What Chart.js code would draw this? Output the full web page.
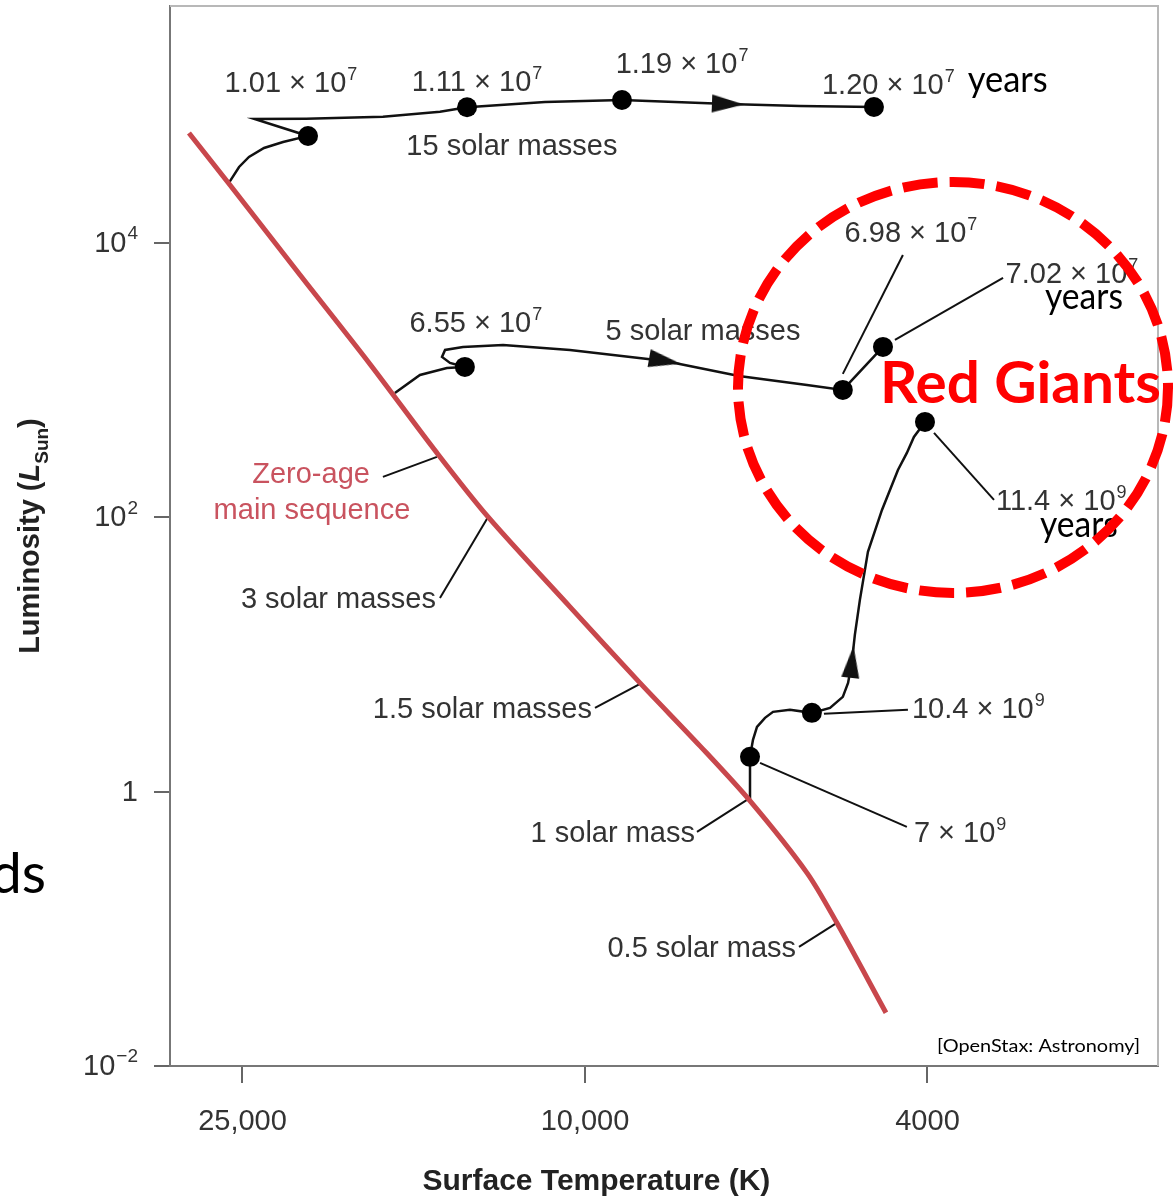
<!DOCTYPE html>
<html>
<head>
<meta charset="utf-8">
<title>Evolutionary tracks</title>
<script src="https://cdn.jsdelivr.net/npm/chart.js@4.4.1/dist/chart.umd.min.js"></script>
<style>
  html, body { margin: 0; padding: 0; background: #fff; }
  canvas { display: block; }
</style>
</head>
<body>
<canvas id="hrChart" width="1173" height="1198"></canvas>
<script>
// axis ticks
const xTickValues = [25000, 10000, 4000];
const xTickLabels = ['25,000', '10,000', '4000'];
const yTickValues = [0.01, 1, 100, 10000];
const yTickBase = ['10', '1', '10', '10'];
const yTickExp = ['−2', '', '2', '4'];

// zero-age main sequence: surface temperature (K) / luminosity (L_sun)
const zamsTemp = [28850, 25850, 21430, 17780, 14860, 12960, 10410, 8633, 7353, 6431, 5522, 5098, 4470];
const zamsLum = [63360, 26470, 5845, 1313, 294.8, 100.7, 22.23, 6.209, 2.157, 0.8568, 0.2560, 0.1106, 0.02442];

// 15 solar masses
const track15Temp = [25870, 25230, 24570, 23600, 22430, 20980, 24210, 21090, 17170, 14740, 13710, 11130, 9058, 6822, 5626, 4616];
const track15Lum = [27980, 35810, 42340, 49250, 54480, 60260, 80130, 80530, 83270, 90570, 97520, 106600, 110200, 103100, 99660, 98000];
const dots15Temp = [20980, 13710, 9058, 4616];
const dots15Lum = [60260, 97520, 110200, 98000];

// 5 solar masses
const track5Temp = [16630, 15550, 14470, 13790, 14350, 14660, 14540, 13860, 12450, 10410, 8075, 6624, 5522, 5017, 4506];
const track5Lum = [806.7, 1091, 1227, 1248, 1335, 1476, 1660, 1746, 1806, 1660, 1380, 1073, 923, 848.5, 1746];
const dots5Temp = [13790, 5017, 4506];
const dots5Lum = [1248, 848.5, 1746];

// 1 solar mass
const track1Temp = [6431, 6431, 6431, 6380, 6312, 6178, 6047, 5779, 5450, 5192, 5017, 4947, 4897, 4858, 4793, 4691, 4518, 4329, 4227, 4148, 4027];
const track1Lum = [0.8568, 1.260, 1.793, 2.386, 2.967, 3.451, 3.816, 3.948, 3.753, 4.081, 4.909, 6.209, 8.834, 13.90, 25.00, 55.95, 113.2, 221.5, 294.8, 385.5, 495.9];
const dots1Temp = [6431, 5450, 4027];
const dots1Lum = [1.793, 3.753, 495.9];

// direction arrows on the tracks (angle in degrees, 0 = pointing up)
const arrowTemp = [6822, 8075, 4897];
const arrowLum = [103100, 1380, 8.834];
const arrowAngle = [92, 100, 6];

// leader lines [T1, L1, T2, L2]
const leaderLines = [
  [17170, 197.0, 14860, 275.6],  // zero-age main sequence
  [14740, 25.85, 12960, 100.7],  // 3 solar masses
  [9736, 4.081, 8587, 6.209],    // 1.5 solar masses
  [7411, 0.5093, 6483, 0.8713],  // 1 solar mass
  [5641, 0.07391, 5098, 0.1106], // 0.5 solar mass
  [6261, 1.621, 4227, 0.5539],   // 7 x 10^9
  [5277, 3.690, 4215, 3.948],    // 10.4 x 10^9
  [3931, 412.3, 3348, 133.9],    // 11.4 x 10^9
  [5017, 1110, 4272, 8177],      // 6.98 x 10^7
  [4364, 1963, 3268, 5557]       // 7.02 x 10^7
];

// red giant region (bounding box of the dashed ring)
const giantsTemp = [6641, 2102];
const giantsLum = [27840, 28.12];

// text notes, anchored at the text baseline
const notes = [
  { text: '1.01 × 10', sup: '7', T: 21960, L: 126100, align: 'center' },
  { text: '1.11 × 10', sup: '7', T: 13350, L: 128200, align: 'center' },
  { text: '1.19 × 10', sup: '7', T: 7714, L: 173400, align: 'center' },
  { text: '1.20 × 10', sup: '7', T: 5305, L: 121900, align: 'left' },
  { text: 'years', T: 3592, L: 126100, align: 'left', style: 'slide', w: 80 },
  { text: '15 solar masses', T: 12160, L: 43790, align: 'center' },
  { text: '6.55 × 10', sup: '7', T: 13390, L: 2245, align: 'center' },
  { text: '5 solar masses', T: 7293, L: 1963, align: 'center' },
  { text: '6.98 × 10', sup: '7', T: 4181, L: 10170, align: 'center' },
  { text: '7.02 × 10', sup: '7', T: 3246, L: 5110, align: 'left' },
  { text: 'years', T: 2921, L: 3303, align: 'left', style: 'slide', w: 78 },
  { text: 'Zero-age', T: 20810, L: 178.1, align: 'center', style: 'zams' },
  { text: 'main sequence', T: 20760, L: 97.3, align: 'center', style: 'zams' },
  { text: '3 solar masses', T: 14900, L: 21.86, align: 'right' },
  { text: '1.5 solar masses', T: 9815, L: 3.451, align: 'right' },
  { text: '1 solar mass', T: 7451, L: 0.4306, align: 'right' },
  { text: '0.5 solar mass', T: 5686, L: 0.06251, align: 'right' },
  { text: '7 × 10', sup: '9', T: 4148, L: 0.4306, align: 'left' },
  { text: '10.4 × 10', sup: '9', T: 4170, L: 3.451, align: 'left' },
  { text: '11.4 × 10', sup: '9', T: 3331, L: 113.2, align: 'left' },
  { text: 'years', T: 2961, L: 71.97, align: 'left', style: 'slide', w: 78 },
  { text: 'ds', T: 42290, L: 0.1830, align: 'right', style: 'slideBig' },
  { text: '[OpenStax: Astronomy]', T: 2265, L: 0.01269, align: 'right', style: 'credit', w: 203 }
];

const FIG_FONT = '"Liberation Sans", Arial, sans-serif';
const noteStyles = {
  fig: { font: '29px ' + FIG_FONT, supFont: '18px ' + FIG_FONT, raise: 12, color: '#333' },
  zams: { font: '29px ' + FIG_FONT, color: '#c9535f' },
  slide: { font: '36px Lato, sans-serif', color: '#000' },
  slideBig: { font: '56px Lato, sans-serif', color: '#000' },
  credit: { font: '17px Lato, sans-serif', color: '#000' },
  giant: { font: 'bold 58px Lato, sans-serif', color: '#f00' }
};

function drawNote(ctx, n, px, py) {
  const st = noteStyles[n.style || 'fig'];
  ctx.font = st.font;
  const baseW = ctx.measureText(n.text).width;
  let supW = 0;
  if (n.sup) {
    ctx.font = st.supFont;
    supW = ctx.measureText(n.sup).width + 1;
  }
  let w = baseW + supW;
  const sx = n.w ? n.w / w : 1;
  w *= sx;
  const left = n.align === 'center' ? px - w / 2 : n.align === 'right' ? px - w : px;
  ctx.save();
  ctx.translate(left, py);
  ctx.scale(sx, 1);
  ctx.fillStyle = st.color;
  ctx.textAlign = 'left';
  ctx.textBaseline = 'alphabetic';
  ctx.font = st.font;
  ctx.fillText(n.text, 0, 0);
  if (n.sup) {
    ctx.font = st.supFont;
    ctx.fillText(n.sup, baseW + 1, -st.raise);
  }
  ctx.restore();
}

function makeArrowHead() {
  const c = document.createElement('canvas');
  c.width = 18;
  c.height = 32;
  const g = c.getContext('2d');
  g.fillStyle = '#111';
  g.beginPath();
  g.moveTo(9, 0);
  g.lineTo(18, 32);
  g.lineTo(0, 32);
  g.closePath();
  g.fill();
  return c;
}

const pts = (ts, ls) => ts.map((t, i) => ({ x: t, y: ls[i] }));
const lineSet = (ts, ls, color, width, tension) => ({
  data: pts(ts, ls), showLine: true, borderColor: color, borderWidth: width,
  pointRadius: 0, tension: tension, fill: false
});

const decor = {
  id: 'decor',
  afterDraw(chart) {
    const { ctx, chartArea: a, scales: { x, y } } = chart;
    ctx.save();

    // top and right edges of the frame
    ctx.strokeStyle = '#b8b8b8';
    ctx.lineWidth = 2;
    ctx.beginPath();
    ctx.moveTo(a.left, a.top);
    ctx.lineTo(a.right, a.top);
    ctx.lineTo(a.right, a.bottom);
    ctx.stroke();

    // y tick labels with raised exponents
    ctx.fillStyle = '#333';
    ctx.textBaseline = 'middle';
    ctx.textAlign = 'right';
    yTickValues.forEach((v, i) => {
      const py = y.getPixelForValue(v);
      let right = a.left - 32;
      if (yTickExp[i]) {
        ctx.font = '19px ' + FIG_FONT;
        ctx.fillText(yTickExp[i], right, py - 9);
        right -= ctx.measureText(yTickExp[i]).width + 1;
      }
      ctx.font = '29px ' + FIG_FONT;
      ctx.fillText(yTickBase[i], right, py + 1);
    });

    notes.forEach(n => drawNote(ctx, n, x.getPixelForValue(n.T), y.getPixelForValue(n.L)));

    // red giants ring
    const gx0 = x.getPixelForValue(giantsTemp[0]), gx1 = x.getPixelForValue(giantsTemp[1]);
    const gy0 = y.getPixelForValue(giantsLum[0]), gy1 = y.getPixelForValue(giantsLum[1]);
    ctx.strokeStyle = '#f00';
    ctx.lineWidth = 10;
    ctx.setLineDash([35, 12]);
    ctx.beginPath();
    ctx.ellipse((gx0 + gx1) / 2, (gy0 + gy1) / 2, Math.abs(gx1 - gx0) / 2, Math.abs(gy1 - gy0) / 2, 0, 0, Math.PI * 2);
    ctx.stroke();
    ctx.setLineDash([]);
    drawNote(ctx, { text: 'Red Giants', style: 'giant', align: 'left', w: 281 },
      x.getPixelForValue(4542), y.getPixelForValue(682));

    // axis titles
    ctx.fillStyle = '#222';
    ctx.textBaseline = 'alphabetic';
    ctx.font = 'bold 30px ' + FIG_FONT;
    ctx.textAlign = 'center';
    ctx.fillText('Surface Temperature (K)', x.getPixelForValue(9700), a.bottom + 124);

    const parts = [
      { t: 'Luminosity (', f: 'bold 29px ' + FIG_FONT, dy: 0 },
      { t: 'L', f: 'italic bold 29px ' + FIG_FONT, dy: 0 },
      { t: 'Sun', f: 'bold 19px ' + FIG_FONT, dy: 9 },
      { t: ')', f: 'bold 29px ' + FIG_FONT, dy: 0 }
    ];
    let total = 0;
    parts.forEach(p => { ctx.font = p.f; p.w = ctx.measureText(p.t).width; total += p.w; });
    ctx.translate(39, y.getPixelForValue(73));
    ctx.rotate(-Math.PI / 2);
    ctx.textAlign = 'left';
    let cx = -total / 2;
    parts.forEach(p => { ctx.font = p.f; ctx.fillText(p.t, cx, p.dy); cx += p.w; });
    ctx.restore();
  }
};

const tickFont = { family: FIG_FONT, size: 29 };

new Chart(document.getElementById('hrChart'), {
  type: 'scatter',
  data: {
    datasets: [
      {
        data: pts(dots15Temp, dots15Lum).concat(pts(dots5Temp, dots5Lum), pts(dots1Temp, dots1Lum)),
        pointRadius: 10, pointBackgroundColor: '#000', pointBorderWidth: 0, showLine: false
      },
      {
        data: pts(arrowTemp, arrowLum), pointStyle: makeArrowHead(), pointRadius: 10,
        pointRotation: c => arrowAngle[c.dataIndex], showLine: false
      },
      lineSet(zamsTemp, zamsLum, '#c8474c', 5, 0.3),
      lineSet(track15Temp, track15Lum, '#111', 2.5, 0),
      lineSet(track5Temp, track5Lum, '#111', 2.5, 0),
      lineSet(track1Temp, track1Lum, '#111', 2.5, 0),
      ...leaderLines.map(l => lineSet([l[0], l[2]], [l[1], l[3]], '#111', 2, 0))
    ]
  },
  options: {
    responsive: false,
    animation: false,
    layout: { autoPadding: false, padding: { top: 6, right: 15, left: 0, bottom: 0 } },
    plugins: { legend: { display: false }, tooltip: { enabled: false } },
    scales: {
      x: {
        type: 'logarithmic',
        reverse: true,
        min: 2159,
        max: 30350,
        afterBuildTicks: s => { s.ticks = xTickValues.map(v => ({ value: v })); },
        afterFit: s => { s.height = 132; s.paddingLeft = 0; s.paddingRight = 0; },
        ticks: {
          callback: v => xTickLabels[xTickValues.indexOf(v)],
          font: tickFont, color: '#333', padding: 22, maxRotation: 0, autoSkip: false
        },
        grid: { drawOnChartArea: false, tickLength: 17, color: '#666', lineWidth: 2 },
        border: { color: '#777', width: 2 }
      },
      y: {
        type: 'logarithmic',
        min: 0.01,
        max: 533800,
        afterBuildTicks: s => { s.ticks = yTickValues.map(v => ({ value: v })); },
        afterFit: s => { s.width = 170; s.paddingTop = 0; s.paddingBottom = 0; },
        ticks: { display: false },
        grid: { drawOnChartArea: false, tickLength: 16, color: '#666', lineWidth: 2 },
        border: { color: '#777', width: 2 }
      }
    }
  },
  plugins: [decor]
});
</script>
</body>
</html>
